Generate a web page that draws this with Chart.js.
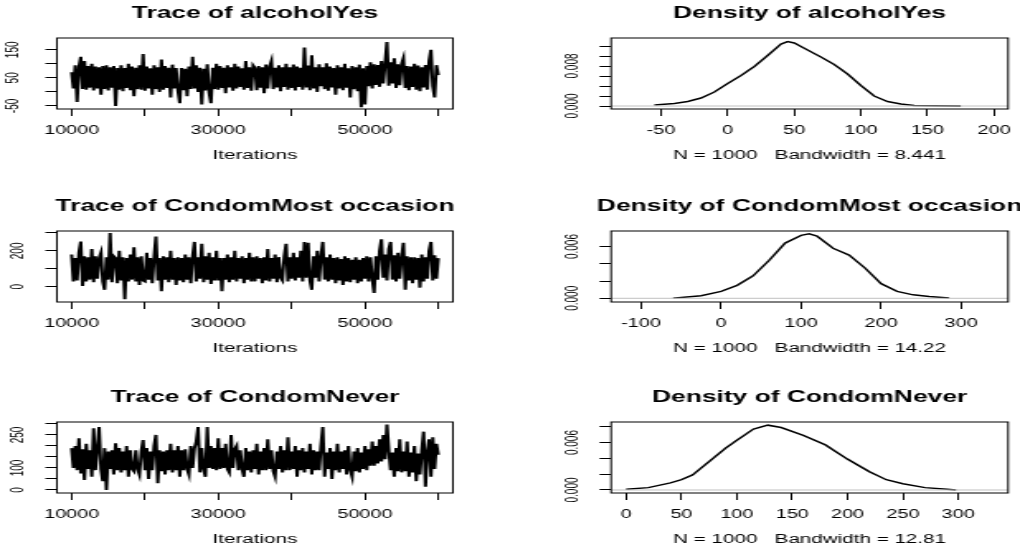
<!DOCTYPE html>
<html>
<head>
<meta charset="utf-8">
<script src="https://cdn.jsdelivr.net/npm/chart.js@4.4.1/dist/chart.umd.min.js"></script>
<style>
    html, body { margin: 0; padding: 0; background: #fff; width: 1020px; height: 554px; overflow: hidden; }
    /* R 图被横向拉伸过，这里用 scaleX 还原同样的比例 */
    .panel { position: absolute; transform-origin: 0 0; transform: scaleX(1.65); }
    .panel canvas { display: block; }
</style>
</head>
<body>
<div class="panel" style="left:0px;top:-2px"><canvas id="traceA" width="309" height="170"></canvas></div>
<div class="panel" style="left:520px;top:-2px"><canvas id="densA" width="351" height="170"></canvas></div>
<div class="panel" style="left:0px;top:191px"><canvas id="traceB" width="309" height="170"></canvas></div>
<div class="panel" style="left:520px;top:191px"><canvas id="densB" width="351" height="170"></canvas></div>
<div class="panel" style="left:0px;top:382px"><canvas id="traceC" width="309" height="170"></canvas></div>
<div class="panel" style="left:520px;top:382px"><canvas id="densC" width="351" height="170"></canvas></div>
<script>
// 迭代次数（抽稀后的样本）
const iterStart = 10000;
const iterStep = 250;

// 轨迹数据（从图上估读，高低交替以还原黑色带）
const alcoholYesTrace = [
    70, 12, 95, -36, 88, 125, 10, 110, 8, 92, 15, 100, 5, 90, 12, 88, -10, 92, 10, 95,
    5, 88, 15, 92, -50, 85, 8, 95, 2, 85, 14, 100, 6, 90, -15, 86, 10, 95, 8, 135,
    4, 90, 12, 84, -10, 95, 10, 88, 0, 115, 8, 92, 14, 86, -20, 97, 12, 85, 5, -40,
    85, 6, 82, -15, 90, 10, 125, 12, 95, 0, 86, -45, 82, 5, 98, -2, -40, 86, 10, 100,
    8, 92, 14, 86, -5, 95, 16, 88, 4, 100, 12, 90, 18, 84, 8, 110, 14, 88, 4, 94,
    85, 6, 92, 15, 88, -5, 97, 12, 90, 110, 10, 86, 16, 95, 2, 88, 18, 100, 8, 88,
    14, 97, 5, 90, 18, 86, 8, 158, 16, 94, 6, 130, 12, 88, 0, 98, 20, 88, 10, 102,
    4, 90, 16, 85, -10, 95, 12, 88, 6, 100, 15, 84, -20, 92, 10, 88, 2, 97, -55, 84,
    -45, 92, 20, 105, 12, 98, 25, 96, 18, 110, 30, 102, 178, 22, 105, 30, 120, 14, 98, 24,
    100, 120, 14, 92, 6, 90, 18, 100, 8, 94, 2, 88, 16, 96, 8, 110, 150, 20, -20, 95,
    60
];
const condomMostTrace = [
    180, 30, 160, 35, 190, 252, 5, 170, 30, 165, 40, 210, 25, 170, 45, 160, 190, 30, -17, 165,
    40, 300, 25, 170, 160, 20, 200, 35, 165, -70, 160, 30, 180, 40, 220, 30, 165, 10, 170, 35,
    30, 190, 40, 160, 20, 165, 280, 35, 160, -25, 170, 40, 165, 25, 200, 40, 160, 10, 165, 35,
    160, 25, 180, 40, 165, 20, 170, 250, 30, 165, 45, 240, 25, 170, 40, 190, 15, 165, 35, 200,
    35, 160, -25, 160, 40, 180, 25, 165, 40, 200, 30, 160, 45, 170, 20, 160, 40, 190, 30, 165,
    30, 170, 45, 160, 20, 165, 35, 210, 30, 160, 45, 180, 25, 165, 50, 35, 170, 240, 30, 165,
    45, 190, 35, 165, 50, 200, 30, 250, 50, 245, 35, -17, 170, 50, 200, 30, 170, 250, 40, 165,
    30, 180, 40, 160, 20, 165, 35, 155, 10, 170, 30, 160, 25, 150, 40, 165, 20, 150, 30, 160,
    45, 170, 30, 165, 45, -35, 170, 40, 200, 265, 50, 180, 35, 210, 250, 40, 175, 30, 190, 45,
    165, 245, -17, 170, 35, 165, 20, 165, 40, 160, -5, 180, 30, 165, 45, 200, 250, 35, 175, 45,
    160
];
const condomNeverTrace = [
    190, 100, 200, 90, 235, 75, 185, 45, 210, 95, 180, 60, 280, 90, 185, 286, 95, 40, 190, 0,
    175, 95, 180, 70, 212, 90, 190, 80, 175, 90, 200, 60, 180, 95, 85, 180, 95, 70, 175, 227,
    90, 190, 50, 175, 90, 200, 250, 30, 180, 85, 175, 70, 180, 90, 210, 80, 180, 90, 200, 60,
    180, 90, 185, 95, 70, 200, 100, 190, 220, 286, 80, 190, 95, 60, 286, 100, 200, 95, 190, 90,
    235, 95, 190, 100, 210, 95, 80, 250, 100, 185, 200, 90, 180, 95, 60, 190, 90, 175, 80, 180,
    95, 210, 70, 175, 90, 190, 90, 230, 95, 180, 85, 60, 175, 95, 200, 80, 180, 90, 240, 90,
    175, 95, 200, 60, 180, 90, 190, 80, 175, 95, 210, 70, 180, 90, 175, 90, 200, 286, 60, 170,
    95, 190, 50, 175, 90, 210, 80, 175, 95, 180, 70, 200, 90, 60, 175, 85, 190, 80, 170, 95,
    200, 90, 185, 110, 220, 110, 200, 120, 230, 130, 250, 140, 297, 180, 90, 170, 60, 190, 85, 230,
    80, 175, 85, 220, 60, 170, 80, 200, 40, 165, 70, 180, 265, 15, 170, 230, 60, 240, 95, 210,
    160
];

// 核密度曲线（估读）
const alcoholYesDensX = [-55, -40, -30, -20, -10, 0, 10, 20, 30, 40, 45, 50, 60, 70, 80, 90, 100, 110, 120, 130, 140, 155, 175];
const alcoholYesDensY = [0.0002, 0.0005, 0.0009, 0.0016, 0.0028, 0.0045, 0.0061, 0.0079, 0.0101, 0.0124, 0.0129, 0.0126, 0.0112, 0.0098, 0.0083, 0.0064, 0.0041, 0.0020, 0.0009, 0.0004, 0.0001, 0.00003, 0];
const condomMostDensX = [-60, -50, -25, 0, 20, 40, 60, 80, 100, 110, 120, 140, 160, 180, 200, 220, 240, 260, 285];
const condomMostDensY = [0.00002, 0.0001, 0.0003, 0.0008, 0.0015, 0.0026, 0.0044, 0.0064, 0.0073, 0.00747, 0.0072, 0.0058, 0.0050, 0.0035, 0.0017, 0.0008, 0.0004, 0.0002, 0.00003];
const condomNeverDensX = [0, 20, 40, 50, 60, 75, 90, 100, 115, 128, 140, 160, 180, 200, 220, 235, 250, 270, 290, 298];
const condomNeverDensY = [0.0001, 0.0003, 0.0009, 0.0013, 0.0019, 0.0036, 0.0053, 0.0063, 0.0077, 0.0082, 0.0079, 0.0069, 0.0057, 0.0039, 0.0023, 0.0013, 0.0008, 0.0003, 0.0001, 0];

// 刻度与标签
const traceXTicks = [10000, 20000, 30000, 40000, 50000, 60000];
const traceXLabels = [10000, 30000, 50000];
const alcoholYesYTicks = [-50, 0, 50, 100, 150];
const alcoholYesYLabels = [-50, 50, 150];
const condomMostYTicks = [0, 100, 200, 300];
const condomMostYLabels = [0, 200];
const condomNeverYTicks = [0, 50, 100, 150, 200, 250, 300];
const condomNeverYLabels = [0, 100, 250];
const alcoholYesDensXTicks = [-50, 0, 50, 100, 150, 200];
const condomMostDensXTicks = [-100, 0, 100, 200, 300];
const condomNeverDensXTicks = [0, 50, 100, 150, 200, 250, 300];
const alcoholYesDensYTicks = [0, 0.002, 0.004, 0.006, 0.008, 0.010, 0.012];
const alcoholYesDensYLabels = [0, 0.008];
const condomMostDensYTicks = [0, 0.002, 0.004, 0.006];
const condomMostDensYLabels = [0, 0.006];
const condomNeverDensYTicks = [0, 0.002, 0.004, 0.006, 0.008];
const condomNeverDensYLabels = [0, 0.006];

const FONT = "'Liberation Sans', Arial, sans-serif";

// 画外框
const boxPlugin = {
    id: 'plotBox',
    afterDatasetsDraw(chart) {
        const { ctx, chartArea: a } = chart;
        ctx.save();
        ctx.strokeStyle = '#000';
        ctx.lineWidth = 1;
        ctx.strokeRect(a.left, a.top, a.right - a.left, a.bottom - a.top);
        ctx.restore();
    }
};

function makePanel(cfg) {
    const canvas = document.getElementById(cfg.id);
    const W = canvas.width;
    new Chart(canvas.getContext('2d'), {
        type: 'line',
        data: { datasets: cfg.datasets },
        options: {
            responsive: false,
            animation: false,
            devicePixelRatio: 1,
            layout: { padding: { top: 5.8, bottom: 5, left: 0, right: W - cfg.boxRight - cfg.boxLeft } },
            elements: { point: { radius: 0 }, line: { tension: 0 } },
            plugins: {
                legend: { display: false },
                tooltip: { enabled: false },
                title: {
                    display: true, text: cfg.title, color: '#000',
                    font: { family: FONT, size: 16, weight: 'bold' },
                    padding: { top: 0, bottom: 15 }
                }
            },
            scales: {
                x: {
                    type: 'linear', min: cfg.xMin, max: cfg.xMax,
                    afterBuildTicks: s => { s.ticks = cfg.xTicks.map(v => ({ value: v })); },
                    afterFit: s => { s.height = 54; s.paddingLeft = 0; s.paddingRight = 0; },
                    grid: { drawOnChartArea: false, drawTicks: true, tickLength: 7, tickColor: '#000' },
                    border: { display: false },
                    ticks: {
                        color: '#000', font: { family: FONT, size: 12 }, padding: 7,
                        autoSkip: false, maxRotation: 0, minRotation: 0,
                        callback: v => cfg.xLabels.includes(v) ? String(v) : ''
                    },
                    title: {
                        display: true, text: cfg.xTitle, color: '#000',
                        font: { family: FONT, size: 12.5 }, padding: 0
                    }
                },
                y: {
                    type: 'linear', min: cfg.yMin, max: cfg.yMax,
                    afterBuildTicks: s => { s.ticks = cfg.yTicks.map(v => ({ value: v })); },
                    afterFit: s => { s.width = cfg.boxLeft; s.paddingTop = 0; s.paddingBottom = 0; },
                    grid: { drawOnChartArea: false, drawTicks: true, tickLength: 7, tickColor: '#000' },
                    border: { display: false },
                    ticks: {
                        color: '#000', font: { family: FONT, size: 10 }, padding: cfg.yPad,
                        autoSkip: false, minRotation: 90, maxRotation: 90, crossAlign: 'center',
                        callback: v => cfg.yLabels.some(l => Math.abs(l - v) < 1e-9) ? cfg.yFmt(v) : ''
                    }
                },
                // 右侧空轴，与左轴等宽，使标题居中在绘图框上方
                yR: {
                    type: 'linear', position: 'right', display: true,
                    afterFit: s => { s.width = cfg.boxLeft; s.paddingTop = 0; s.paddingBottom = 0; },
                    grid: { display: false }, border: { display: false }, ticks: { display: false }
                }
            }
        },
        plugins: [boxPlugin]
    });
}

function traceSet(values) {
    return [{
        data: values.map((v, i) => ({ x: iterStart + i * iterStep, y: v })),
        borderColor: '#000', borderWidth: 2
    }];
}

function densSet(xs, ys, xMin, xMax) {
    return [
        { data: [{ x: xMin, y: 0 }, { x: xMax, y: 0 }], borderColor: '#c0c0c0', borderWidth: 1 },
        { data: xs.map((x, i) => ({ x: x, y: ys[i] })), borderColor: '#000', borderWidth: 1.5 }
    ];
}

const intFmt = v => String(v);
const densFmt = v => v.toFixed(3);

document.addEventListener('DOMContentLoaded', () => {
    makePanel({
        id: 'traceA', title: 'Trace of alcoholYes', xTitle: 'Iterations',
        boxLeft: 34.5, boxRight: 274.5, yPad: 10.6,
        xMin: 8000, xMax: 62000, yMin: -61, yMax: 192,
        xTicks: traceXTicks, xLabels: traceXLabels,
        yTicks: alcoholYesYTicks, yLabels: alcoholYesYLabels, yFmt: intFmt,
        datasets: traceSet(alcoholYesTrace)
    });
    makePanel({
        id: 'densA', title: 'Density of alcoholYes', xTitle: 'N = 1000   Bandwidth = 8.441',
        boxLeft: 55.2, boxRight: 295.8, yPad: 3.6,
        xMin: -87.5, xMax: 210.5, yMin: -0.0006, yMax: 0.0136,
        xTicks: alcoholYesDensXTicks, xLabels: alcoholYesDensXTicks,
        yTicks: alcoholYesDensYTicks, yLabels: alcoholYesDensYLabels, yFmt: densFmt,
        datasets: densSet(alcoholYesDensX, alcoholYesDensY, -87.5, 210.5)
    });
    makePanel({
        id: 'traceB', title: 'Trace of CondomMost occasion', xTitle: 'Iterations',
        boxLeft: 34.5, boxRight: 274.5, yPad: 7.6,
        xMin: 8000, xMax: 62000, yMin: -85, yMax: 311,
        xTicks: traceXTicks, xLabels: traceXLabels,
        yTicks: condomMostYTicks, yLabels: condomMostYLabels, yFmt: intFmt,
        datasets: traceSet(condomMostTrace)
    });
    makePanel({
        id: 'densB', title: 'Density of CondomMost occasion', xTitle: 'N = 1000   Bandwidth = 14.22',
        boxLeft: 55.2, boxRight: 295.8, yPad: 3.6,
        xMin: -137.5, xMax: 358.75, yMin: -0.00043, yMax: 0.0078,
        xTicks: condomMostDensXTicks, xLabels: condomMostDensXTicks,
        yTicks: condomMostDensYTicks, yLabels: condomMostDensYLabels, yFmt: densFmt,
        datasets: densSet(condomMostDensX, condomMostDensY, -137.5, 358.75)
    });
    makePanel({
        id: 'traceC', title: 'Trace of CondomNever', xTitle: 'Iterations',
        boxLeft: 34.5, boxRight: 274.5, yPad: 7.6,
        xMin: 8000, xMax: 62000, yMin: -14, yMax: 309,
        xTicks: traceXTicks, xLabels: traceXLabels,
        yTicks: condomNeverYTicks, yLabels: condomNeverYLabels, yFmt: intFmt,
        datasets: traceSet(condomNeverTrace)
    });
    makePanel({
        id: 'densC', title: 'Density of CondomNever', xTitle: 'N = 1000   Bandwidth = 12.81',
        boxLeft: 55.2, boxRight: 295.8, yPad: 3.6,
        xMin: -13.6, xMax: 345, yMin: -0.00038, yMax: 0.0086,
        xTicks: condomNeverDensXTicks, xLabels: condomNeverDensXTicks,
        yTicks: condomNeverDensYTicks, yLabels: condomNeverDensYLabels, yFmt: densFmt,
        datasets: densSet(condomNeverDensX, condomNeverDensY, -13.6, 345)
    });
});
</script>
</body>
</html>
